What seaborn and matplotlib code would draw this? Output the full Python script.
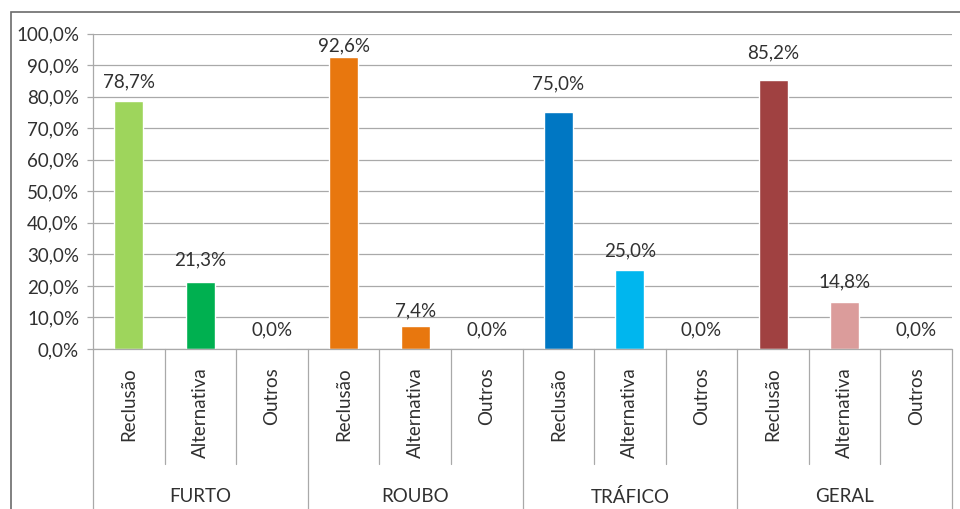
import matplotlib
matplotlib.use("Agg")
import matplotlib.pyplot as plt
from matplotlib.patches import Rectangle
from matplotlib.ticker import MultipleLocator, FuncFormatter
import seaborn as sns
import pandas as pd

# Crime groups and the sentence types inside each group
grupos = ["FURTO", "ROUBO", "TRÁFICO", "GERAL"]
tipos = ["Reclusão", "Alternativa", "Outros"]

# Percentages per group, in the order of `tipos`
furto = [78.7, 21.3, 0.0]
roubo = [92.6, 7.4, 0.0]
trafico = [75.0, 25.0, 0.0]
geral = [85.2, 14.8, 0.0]

# Bar colours per group, in the order of `tipos`
cores_furto = ["#9ED55C", "#00B050", "#9ED55C"]
cores_roubo = ["#E8770E", "#E8770E", "#E8770E"]
cores_trafico = ["#0077C3", "#00B6EE", "#0077C3"]
cores_geral = ["#A04141", "#DB9C9B", "#A04141"]

# Distance (px) from each bar top to the centre of its value label
desloc_rotulo = [19, 22, 19, 11, 15, 19, 28, 19, 19, 27, 20, 19]

valores = [furto, roubo, trafico, geral]
cores = [cores_furto, cores_roubo, cores_trafico, cores_geral]

linhas = []
for g, vals, cs in zip(grupos, valores, cores):
    for t, v, c in zip(tipos, vals, cs):
        linhas.append({"chave": f"{g}|{t}", "grupo": g, "tipo": t,
                       "valor": v, "cor": c})
df = pd.DataFrame(linhas)

sns.set_theme(style="white")
plt.rcParams["font.family"] = ["Lato", "DejaVu Sans"]
texto = "#303030"
cinza = "#A9A9A9"
fs = 13.5
DPI = 100

fig = plt.figure(figsize=(9.6, 5.09), dpi=DPI)
W, H = 960, 509
ax = fig.add_axes([93 / W, (H - 349) / H, (952 - 93) / W, (349 - 33.5) / H])

sns.barplot(data=df, x="chave", y="valor", hue="chave",
            palette=dict(zip(df["chave"], df["cor"])), legend=False,
            width=0.405, saturation=1, ax=ax)

ax.set_ylim(0, 100)
ax.set_xlim(-0.5, len(df) - 0.5)
ax.yaxis.set_major_locator(MultipleLocator(10))
ax.yaxis.set_major_formatter(
    FuncFormatter(lambda v, _: f"{v:.1f}%".replace(".", ",")))
ax.yaxis.grid(True, color=cinza, linewidth=0.9)
ax.set_axisbelow(True)
ax.set_xlabel("")
ax.set_ylabel("")

for s in ["top", "right", "bottom"]:
    ax.spines[s].set_visible(False)
ax.spines["left"].set_color(cinza)
ax.spines["left"].set_linewidth(0.9)

ax.tick_params(axis="y", length=4, width=0.9, color=cinza, pad=6,
               labelsize=fs, labelcolor=texto, left=True)
ax.set_xticks(range(len(df)))
ax.set_xticklabels(df["tipo"], rotation=90, va="top", ha="center")
ax.tick_params(axis="x", length=0, pad=13, labelsize=fs, labelcolor=texto)

# Value labels above each bar
for i, (v, d) in enumerate(zip(df["valor"], desloc_rotulo)):
    ax.annotate(f"{v:.1f}%".replace(".", ","), xy=(i, v),
                xytext=(0, d * 72 / DPI), textcoords="offset points",
                ha="center", va="center", fontsize=fs, color=texto)

# Baseline and category separators below the axis
trans = ax.get_xaxis_transform()
ax.plot([-0.5, len(df) - 0.5], [0, 0], color=cinza, lw=0.9,
        transform=trans, clip_on=False)
px = 1 / (349 - 33.5)
for k in range(len(df) + 1):
    x = k - 0.5
    if k % 3 == 0:
        y0 = -200 * px
    else:
        y0 = -115 * px
    ax.plot([x, x], [0, y0], color=cinza, lw=0.9,
            transform=trans, clip_on=False)

# Group names under each set of three bars
for j, g in enumerate(grupos):
    ax.text(3 * j + 1, -148 * px, g, transform=trans, ha="center",
            va="center", fontsize=fs, color=texto)

# Outer chart frame
fig.patches.append(Rectangle((11 / W, -0.1), 1.2, (H - 12) / H + 0.1,
                             transform=fig.transFigure, fill=False,
                             edgecolor="#6B6B6B", linewidth=1.2))

fig.savefig("out.png", dpi=DPI)
